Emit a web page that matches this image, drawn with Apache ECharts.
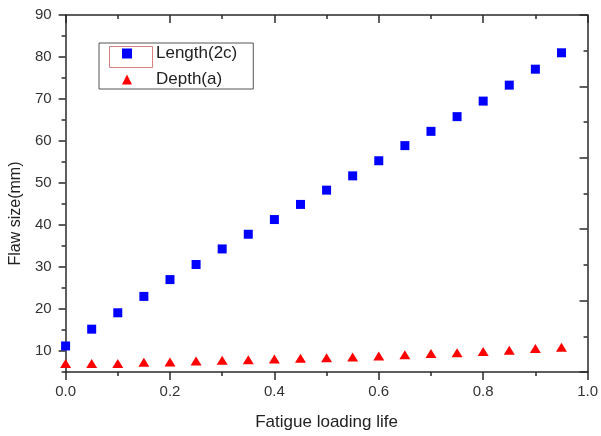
<!DOCTYPE html>
<html>
<head>
<meta charset="utf-8">
<script src="https://cdn.jsdelivr.net/npm/echarts@6/dist/echarts.min.js"></script>
<style>
html,body{margin:0;padding:0;background:#fff;}
#chart{width:601px;height:436px;}
</style>
</head>
<body>
<div id="chart"></div>
<script>
var fatigueLife = [0, 0.05, 0.1, 0.15, 0.2, 0.25, 0.3, 0.35, 0.4, 0.45, 0.5, 0.55, 0.6, 0.65, 0.7, 0.75, 0.8, 0.85, 0.9, 0.95];
var lengthValues = [11.2, 15.2, 19.1, 23.0, 27.0, 30.6, 34.3, 37.8, 41.3, 44.9, 48.3, 51.7, 55.3, 58.9, 62.3, 65.8, 69.5, 73.3, 77.1, 81.0];
var depthValues = [7.0, 7.0, 7.0, 7.3, 7.4, 7.6, 7.8, 7.9, 8.1, 8.3, 8.4, 8.6, 8.8, 9.1, 9.4, 9.6, 9.9, 10.2, 10.6, 10.9];
var seriesNames = ['Length(2c)', 'Depth(a)'];
var yTickLabels = [10, 20, 30, 40, 50, 60, 70, 80, 90];
var xTitle = 'Fatigue loading life';
var yTitle = 'Flaw size(mm)';

function pairs(xs, ys) { return xs.map(function (x, i) { return [x, ys[i]]; }); }

var lineStyle = { color: '#2a2a2a', width: 1.5 };
var chart = echarts.init(document.getElementById('chart'));
chart.setOption({
  animation: false,
  backgroundColor: '#fff',
  textStyle: { fontFamily: 'Liberation Sans, Arial, sans-serif' },
  grid: { left: 65, right: 10, top: 15, bottom: 60 },
  legend: {
    left: 99, top: 43,
    orient: 'vertical',
    padding: [1, 16, 0, 23],
    itemGap: 7,
    itemWidth: 10, itemHeight: 10,
    borderColor: '#555', borderWidth: 1,
    textStyle: { fontSize: 17, color: '#222', lineHeight: 19, padding: [0, 0, 0, 19] },
    data: seriesNames
  },
  graphic: [{
    type: 'rect', left: 107, top: 44, z: 100,
    shape: { width: 43, height: 21 },
    style: { fill: 'none', stroke: '#d98080', lineWidth: 1 }
  }],
  xAxis: [{
    type: 'value', min: 0, max: 1, interval: 0.2, position: 'bottom',
    name: xTitle, nameLocation: 'middle', nameGap: 42,
    nameTextStyle: { fontSize: 17, color: '#222' },
    axisLine: { show: true, onZero: false, lineStyle: lineStyle },
    axisTick: { show: true, length: 8, lineStyle: lineStyle },
    minorTick: { show: true, splitNumber: 2, length: 4, lineStyle: lineStyle },
    axisLabel: { fontSize: 15, color: '#333', margin: 12, formatter: function (v) { return v.toFixed(1); } },
    splitLine: { show: false }
  }, {
    type: 'value', min: 0, max: 1, interval: 0.2, position: 'top',
    axisLine: { show: true, onZero: false, lineStyle: lineStyle },
    axisTick: { show: true, inside: true, length: 8, lineStyle: lineStyle },
    minorTick: { show: true, splitNumber: 2, length: 4, lineStyle: lineStyle },
    axisLabel: { show: false },
    splitLine: { show: false }
  }],
  yAxis: [{
    type: 'value', min: 5, max: 90, interval: 5, position: 'left',
    name: yTitle, nameLocation: 'middle', nameRotate: 90, nameGap: 39,
    nameTextStyle: { fontSize: 16, color: '#222', padding: [0, 40, 0, 0] },
    axisLine: { show: true, onZero: false, lineStyle: lineStyle },
    axisTick: { show: true, length: 4, lineStyle: lineStyle },
    axisLabel: { fontSize: 15, color: '#333', margin: 14,
      formatter: function (v) { return yTickLabels.indexOf(v) >= 0 ? String(v) : ''; } },
    splitLine: { show: false }
  }, {
    type: 'value', min: 5, max: 90, position: 'left',
    axisLine: { show: false },
    axisTick: { show: true, length: 7, lineStyle: lineStyle, customValues: yTickLabels },
    axisLabel: { show: false, customValues: yTickLabels },
    splitLine: { show: false }
  }, {
    type: 'value', min: 0, max: 10, interval: 2, position: 'right',
    axisLine: { show: true, onZero: false, lineStyle: lineStyle },
    axisTick: { show: true, inside: true, length: 8, lineStyle: lineStyle },
    minorTick: { show: true, splitNumber: 2, length: 4, lineStyle: lineStyle },
    axisLabel: { show: false },
    splitLine: { show: false }
  }],
  series: [{
    name: seriesNames[0], type: 'scatter', xAxisIndex: 0, yAxisIndex: 0,
    symbol: 'rect', symbolSize: 9,
    itemStyle: { color: '#0000ff', opacity: 1 },
    data: pairs(fatigueLife, lengthValues)
  }, {
    name: seriesNames[1], type: 'scatter', xAxisIndex: 0, yAxisIndex: 0,
    symbol: 'triangle', symbolSize: [11, 9],
    itemStyle: { color: '#ff0000', opacity: 1 },
    data: pairs(fatigueLife, depthValues)
  }]
});
</script>
</body>
</html>
